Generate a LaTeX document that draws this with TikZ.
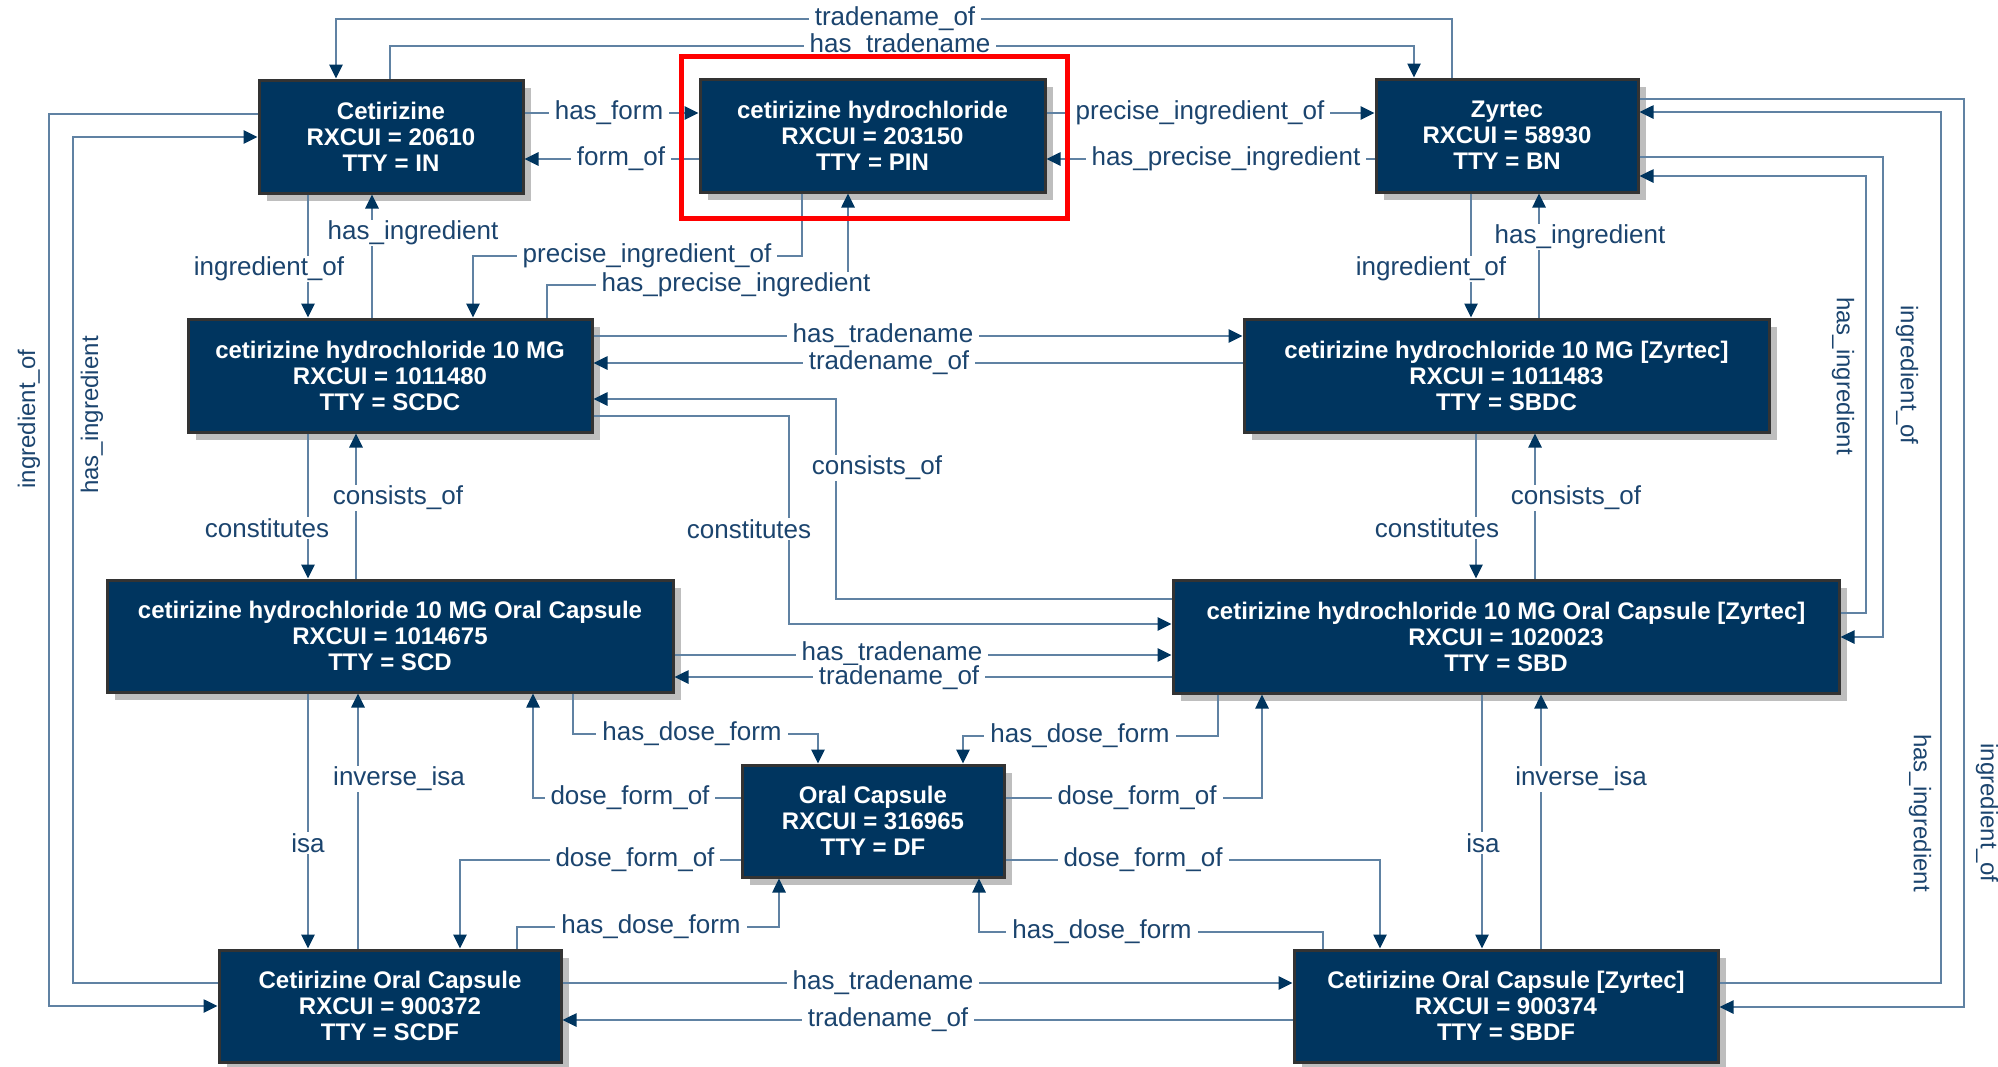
\documentclass[tikz,border=0pt]{standalone}
\usepackage{fontspec}
\setmainfont{Liberation Sans}
\usetikzlibrary{arrows.meta,shadows}
\definecolor{navy}{RGB}{0,53,95}
\definecolor{edgec}{RGB}{96,130,163}
\definecolor{labc}{RGB}{27,68,110}
\definecolor{bordc}{RGB}{51,51,51}
\definecolor{shadc}{RGB}{190,190,190}
\tikzset{
 box/.style={draw=bordc, line width=1.5pt, fill=navy, text=white,
   font=\bfseries\fontsize{12}{13}\selectfont, align=center, inner sep=0pt,
   general shadow={fill=shadc, shadow xshift=4pt, shadow yshift=-4pt}},
 conn/.style={draw=edgec, line width=1.3pt},
 arr/.style={conn, -{Triangle[length=7pt,width=6.5pt,color=navy]}},
 lab/.style={fill=white, text=labc, font=\fontsize{13}{14}\selectfont, inner xsep=3pt, inner ysep=0.5pt},
 vlab/.style={text=labc, font=\fontsize{12}{13}\selectfont, inner sep=0pt},
}
\begin{document}
\begin{tikzpicture}[x=0.5pt,y=-0.5pt]
\useasboundingbox (0,0) rectangle (1998,1066);
% nodes
\node[box, minimum width=132pt, minimum height=56.5pt] (IN) at (391,136.5) {Cetirizine\\RXCUI = 20610\\TTY = IN};
\node[box, minimum width=172.5pt, minimum height=56.5pt] (PIN) at (872.5,135.5) {cetirizine hydrochloride\\RXCUI = 203150\\TTY = PIN};
\node[box, minimum width=131pt, minimum height=56.5pt] (BN) at (1507,135.5) {Zyrtec\\RXCUI = 58930\\TTY = BN};
\node[box, minimum width=202pt, minimum height=56.5pt] (SCDC) at (390,375.5) {cetirizine hydrochloride 10 MG\\RXCUI = 1011480\\TTY = SCDC};
\node[box, minimum width=262.5pt, minimum height=56.5pt] (SBDC) at (1506.5,375.5) {cetirizine hydrochloride 10 MG [Zyrtec]\\RXCUI = 1011483\\TTY = SBDC};
\node[box, minimum width=283pt, minimum height=56pt] (SCD) at (390,636) {cetirizine hydrochloride 10 MG Oral Capsule\\RXCUI = 1014675\\TTY = SCD};
\node[box, minimum width=333pt, minimum height=56.5pt] (SBD) at (1506,636.5) {cetirizine hydrochloride 10 MG Oral Capsule [Zyrtec]\\RXCUI = 1020023\\TTY = SBD};
\node[box, minimum width=131pt, minimum height=56pt] (DF) at (873,821) {Oral Capsule\\RXCUI = 316965\\TTY = DF};
\node[box, minimum width=171pt, minimum height=56pt] (SCDF) at (390,1006) {Cetirizine Oral Capsule\\RXCUI = 900372\\TTY = SCDF};
\node[box, minimum width=212pt, minimum height=56pt] (SBDF) at (1506,1006) {Cetirizine Oral Capsule [Zyrtec]\\RXCUI = 900374\\TTY = SBDF};
% connectors
\draw[arr] (BN.north -| 1452,0) -- (1452,19) -- (336,19) -- (IN.north -| 336,0);
\draw[arr] (IN.north -| 390,0) -- (390,46) -- (1414,46) -- (BN.north -| 1414,0);
\draw[arr] (IN.east |- 0,113) -- (PIN.west |- 0,113);
\draw[arr] (PIN.west |- 0,159) -- (IN.east |- 0,159);
\draw[arr] (PIN.east |- 0,113) -- (BN.west |- 0,113);
\draw[arr] (BN.west |- 0,159) -- (PIN.east |- 0,159);
\draw[arr] (IN.south -| 308,0) -- (SCDC.north -| 308,0);
\draw[arr] (SCDC.north -| 372,0) -- (IN.south -| 372,0);
\draw[arr] (PIN.south -| 802,0) -- (802,256) -- (473,256) -- (SCDC.north -| 473,0);
\draw[arr] (SCDC.north -| 547,0) -- (547,285) -- (848,285) -- (PIN.south -| 848,0);
\draw[arr] (BN.south -| 1471,0) -- (SBDC.north -| 1471,0);
\draw[arr] (SBDC.north -| 1539,0) -- (BN.south -| 1539,0);
\draw[arr] (SCDC.east |- 0,336) -- (SBDC.west |- 0,336);
\draw[arr] (SBDC.west |- 0,363) -- (SCDC.east |- 0,363);
\draw[arr] (SBD.west |- 0,599) -- (836,599) -- (836,399) -- (SCDC.east |- 0,399);
\draw[arr] (SCDC.east |- 0,416) -- (789,416) -- (789,624) -- (SBD.west |- 0,624);
\draw[arr] (SCDC.south -| 308,0) -- (SCD.north -| 308,0);
\draw[arr] (SCD.north -| 356,0) -- (SCDC.south -| 356,0);
\draw[arr] (SBDC.south -| 1476,0) -- (SBD.north -| 1476,0);
\draw[arr] (SBD.north -| 1535,0) -- (SBDC.south -| 1535,0);
\draw[arr] (SCD.east |- 0,655) -- (SBD.west |- 0,655);
\draw[arr] (SBD.west |- 0,677) -- (SCD.east |- 0,677);
\draw[arr] (SCD.south -| 308,0) -- (SCDF.north -| 308,0);
\draw[arr] (SCDF.north -| 358,0) -- (SCD.south -| 358,0);
\draw[arr] (SBD.south -| 1482,0) -- (SBDF.north -| 1482,0);
\draw[arr] (SBDF.north -| 1541,0) -- (SBD.south -| 1541,0);
\draw[arr] (SCD.south -| 573,0) -- (573,734) -- (818,734) -- (DF.north -| 818,0);
\draw[arr] (DF.west |- 0,798) -- (533,798) -- (SCD.south -| 533,0);
\draw[arr] (SBD.south -| 1218,0) -- (1218,736) -- (963,736) -- (DF.north -| 963,0);
\draw[arr] (DF.east |- 0,798) -- (1262,798) -- (SBD.south -| 1262,0);
\draw[arr] (DF.west |- 0,860) -- (460,860) -- (SCDF.north -| 460,0);
\draw[arr] (SCDF.north -| 517,0) -- (517,927) -- (779,927) -- (DF.south -| 779,0);
\draw[arr] (DF.east |- 0,860) -- (1380,860) -- (SBDF.north -| 1380,0);
\draw[arr] (SBDF.north -| 1323,0) -- (1323,932) -- (979,932) -- (DF.south -| 979,0);
\draw[arr] (SCDF.east |- 0,983) -- (SBDF.west |- 0,983);
\draw[arr] (SBDF.west |- 0,1020) -- (SCDF.east |- 0,1020);
\draw[arr] (IN.west |- 0,114) -- (49,114) -- (49,1006) -- (SCDF.west |- 0,1006);
\draw[arr] (SCDF.west |- 0,983) -- (73,983) -- (73,137) -- (IN.west |- 0,137);
\draw[arr] (BN.east |- 0,99) -- (1964,99) -- (1964,1007) -- (SBDF.east |- 0,1007);
\draw[arr] (SBDF.east |- 0,983) -- (1941,983) -- (1941,112) -- (BN.east |- 0,112);
\draw[arr] (BN.east |- 0,157) -- (1883,157) -- (1883,637) -- (SBD.east |- 0,637);
\draw[arr] (SBD.east |- 0,613) -- (1866,613) -- (1866,176) -- (BN.east |- 0,176);
% labels
\node[lab] (t1) at (895,19) {tradename\_of};
\node[lab] (t2) at (900,46) {has\_tradename};
\node[lab] (t3) at (609,113) {has\_form};
\node[lab] (t4) at (621,159) {form\_of};
\node[lab] (t5) at (1200,113) {precise\_ingredient\_of};
\node[lab] (t6) at (1226,159) {has\_precise\_ingredient};
\node[lab] (t7) at (269,269) {ingredient\_of};
\node[lab] (t8) at (413,233) {has\_ingredient};
\node[lab] (t9) at (647,256) {precise\_ingredient\_of};
\node[lab] (t10) at (736,285) {has\_precise\_ingredient};
\node[lab] (t11) at (1431,269) {ingredient\_of};
\node[lab] (t12) at (1580,237) {has\_ingredient};
\node[lab] (t13) at (883,336) {has\_tradename};
\node[lab] (t14) at (889,363) {tradename\_of};
\node[lab] (t15) at (877,468) {consists\_of};
\node[lab] (t16) at (749,529) {constitutes};
\node[lab] (t17) at (267,528) {constitutes};
\node[lab] (t18) at (398,498) {consists\_of};
\node[lab] (t19) at (1437,528) {constitutes};
\node[lab] (t20) at (1576,498) {consists\_of};
\node[lab] (t21) at (892,654) {has\_tradename};
\node[lab] (t22) at (899,678) {tradename\_of};
\node[lab] (t23) at (308,843) {isa};
\node[lab] (t24) at (399,779) {inverse\_isa};
\node[lab] (t25) at (1483,843) {isa};
\node[lab] (t26) at (1581,779) {inverse\_isa};
\node[lab] (t27) at (692,734) {has\_dose\_form};
\node[lab] (t28) at (630,798) {dose\_form\_of};
\node[lab] (t29) at (1080,736) {has\_dose\_form};
\node[lab] (t30) at (1137,798) {dose\_form\_of};
\node[lab] (t31) at (635,860) {dose\_form\_of};
\node[lab] (t32) at (651,927) {has\_dose\_form};
\node[lab] (t33) at (1143,860) {dose\_form\_of};
\node[lab] (t34) at (1102,932) {has\_dose\_form};
\node[lab] (t35) at (883,983) {has\_tradename};
\node[lab] (t36) at (888,1020) {tradename\_of};
\node[vlab, rotate=90] (t37) at (29,419) {ingredient\_of};
\node[vlab, rotate=90] (t38) at (92,415) {has\_ingredient};
\node[vlab, rotate=-90] (t39) at (1987,813) {ingredient\_of};
\node[vlab, rotate=-90] (t40) at (1920,813) {has\_ingredient};
\node[vlab, rotate=-90] (t41) at (1907,375) {ingredient\_of};
\node[vlab, rotate=-90] (t42) at (1843,376) {has\_ingredient};
% highlight
\node[draw=red, line width=2.5pt, minimum width=193pt, minimum height=81pt, inner sep=0pt] (hl) at (874,137) {};
\end{tikzpicture}
\end{document}
